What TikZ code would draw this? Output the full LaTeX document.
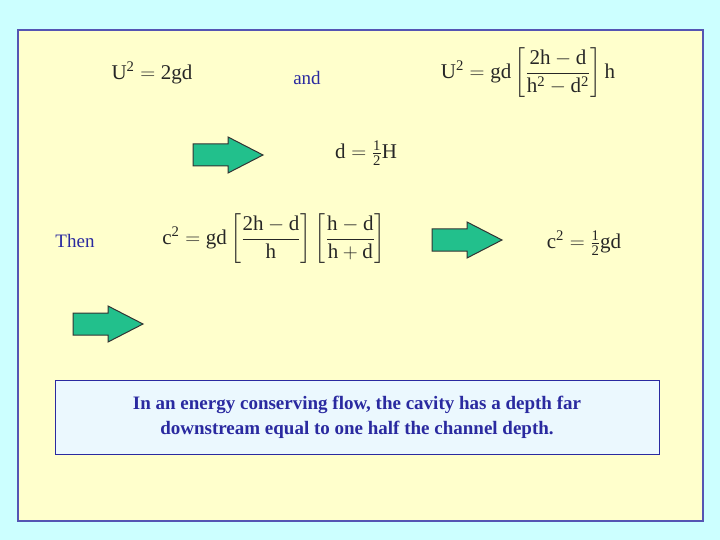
\documentclass[tikz,border=0pt]{standalone}
\usepackage{amsmath}
\usepackage{fontspec}
\setmainfont{Liberation Serif}
\definecolor{arrowgreen}{HTML}{22C08C}
\definecolor{txtblue}{HTML}{2A2AA0}
\definecolor{bgcyan}{HTML}{CCFFFF}
\definecolor{bgyellow}{HTML}{FFFFCC}
\newcommand{\myarr}[2]{\draw[garrow] (#1,#2+7) -- (#1+35,#2+7) -- (#1+35,#2) -- (#1+70,#2+18) -- (#1+35,#2+36) -- (#1+35,#2+29) -- (#1,#2+29) -- cycle;}
\begin{document}
\begin{tikzpicture}[x=1pt,y=-1pt,
  garrow/.style={fill=arrowgreen,draw=black!80,line width=1pt},
  eq/.style={text=black!85,font=\fontsize{21}{25}\selectfont},
  bl/.style={text=txtblue,font=\fontsize{19}{23}\selectfont}]
\useasboundingbox (0,0) rectangle (720,540);
\fill[bgcyan] (0,0) rectangle (720,540);
\draw[fill=bgyellow,draw=txtblue!80,line width=1.5pt] (18,30) rectangle (703,521);
\myarr{193}{137}
\myarr{432}{222}
\myarr{73}{306}
\node[eq] (e1) at (152,73) {$\mathrm{U^2 = 2gd}$};
\node[bl] (and) at (307,78) {and};
\node[eq] (e2) at (528,73) {$\mathrm{U^2 = gd\left[\dfrac{2h-d}{h^2-d^2}\right]h}$};
\node[eq] (e3) at (366,153) {$\mathrm{d=\tfrac12 H}$};
\node[bl] (then) at (75,241) {Then};
\node[eq] (e4) at (274,239) {$\mathrm{c^2 = gd\left[\dfrac{2h-d}{h}\right]\left[\dfrac{h-d}{h+d}\right]}$};
\node[eq] (e5) at (584,243) {$\mathrm{c^2=\tfrac12 gd}$};
\draw[fill=cyan!8,draw=txtblue,line width=1pt] (55,380) rectangle (659,454);
\node[text=txtblue,font=\fontsize{19}{25}\selectfont\bfseries,align=center] (box) at (357,417)
 {In an energy conserving flow, the cavity has a depth far\\downstream equal to one half the channel depth.};
\end{tikzpicture}
\end{document}
